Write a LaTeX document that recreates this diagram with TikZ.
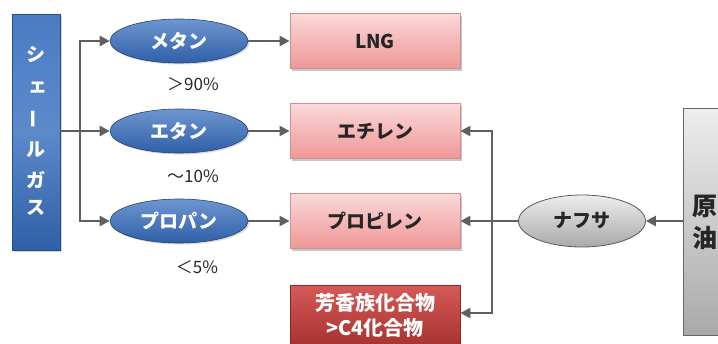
\documentclass[tikz,border=0pt]{standalone}
\usepackage{fontspec}
\setmainfont{Noto Sans CJK JP}
\usetikzlibrary{arrows.meta,shadows,shapes.geometric}
\definecolor{arr}{HTML}{5F5F5F}
\definecolor{blueA}{HTML}{4A7CC4}
\definecolor{blueB}{HTML}{2F5FA8}
\definecolor{pinkA}{HTML}{FBD9D9}
\definecolor{pinkB}{HTML}{EF9696}
\definecolor{redA}{HTML}{D65A57}
\definecolor{redB}{HTML}{A83331}
\definecolor{grayA}{HTML}{EDEDED}
\definecolor{grayB}{HTML}{A9A9A9}
\tikzset{
  conn/.style={draw=arr, line width=2.4pt},
  arrowline/.style={conn, -{Triangle[length=10pt,width=10pt]}},
  bluebox/.style={draw=blueB!80!black, line width=0.8pt, top color=blueA, bottom color=blueB, middle color=blueA!90!white, drop shadow={shadow xshift=1.5pt, shadow yshift=-1.5pt, opacity=0.35}},
  blueell/.style={ellipse, draw=blueB!70!black, line width=0.6pt, top color=blueA!80!white, bottom color=blueB, minimum width=138pt, minimum height=44pt, inner sep=0pt, text=white, font=\bfseries\fontsize{19}{20}\selectfont, drop shadow={shadow xshift=1.5pt, shadow yshift=-1.5pt, opacity=0.3}},
  pinkbox/.style={draw=pinkB!70!gray, line width=0.8pt, top color=pinkA, bottom color=pinkB, minimum width=170pt, minimum height=55pt, inner sep=0pt, text=black!85, font=\bfseries\fontsize{19}{20}\selectfont, drop shadow={shadow xshift=2pt, shadow yshift=-2pt, opacity=0.45}},
  redbox/.style={draw=redB!80!black, line width=0.8pt, top color=redA, bottom color=redB, minimum width=170pt, minimum height=60pt, inner sep=0pt, text=white, align=center, font=\bfseries\fontsize{20}{27}\selectfont},
  grayell/.style={ellipse, draw=gray!70!black, line width=0.8pt, top color=grayA, bottom color=grayB, minimum width=127pt, minimum height=52pt, inner sep=0pt, text=black!85, font=\bfseries\fontsize{19}{20}\selectfont},
  graybox/.style={draw=gray!80!black, line width=0.8pt, top color=grayA, bottom color=grayB, minimum width=60pt, minimum height=227pt, inner sep=0pt},
  pct/.style={font=\fontsize{17}{19}\selectfont, text=black!85},
  vchar/.style={text=white, font=\bfseries\fontsize{19}{20}\selectfont, inner sep=0pt},
}
\begin{document}
\begin{tikzpicture}[x=1pt,y=-1pt]
\useasboundingbox (0,0) rectangle (718,343);
\clip (0,0) rectangle (718,343);
% left box
\node[bluebox, minimum width=48pt, minimum height=236pt, inner sep=0pt] (shale) at (36,132) {};
\node[vchar] (c1) at (36,54) {シ};
\node[vchar] (c2) at (38,88) {ェ};
\node[vchar, rotate=90] (c3) at (36,119) {ー};
\node[vchar] (c4) at (36,150) {ル};
\node[vchar] (c5) at (36,180) {ガ};
\node[vchar] (c6) at (36,208) {ス};
% ellipses
\node[blueell] (methane) at (179,41) {メタン};
\node[blueell] (ethane) at (179,131) {エタン};
\node[blueell] (propane) at (179,221) {プロパン};
\node[pct] (p1) at (193,84) {＞90\%};
\node[pct] (p2) at (193,176) {～10\%};
\node[pct] (p3) at (197,267) {＜5\%};
% products
\node[pinkbox] (lng) at (375,41) {LNG};
\node[pinkbox] (ethylene) at (375,131) {エチレン};
\node[pinkbox] (propylene) at (375,221) {プロピレン};
\node[redbox] (arom) at (375,315) {芳香族化合物\\[-2pt]>C4化合物};
% right side
\node[grayell] (naphtha) at (582,221) {ナフサ};
\node[graybox, anchor=north west] (crude) at (683,108) {};
\node[font=\bfseries\fontsize{25}{32}\selectfont, text=black!85, anchor=west, inner sep=0pt, align=left] (crudetxt) at (692,222) {原\\油};
% connectors left
\coordinate (split) at (80,131);
\draw[conn] (shale.east |- split) -- (split);
\draw[arrowline] (split) |- (methane.west);
\draw[arrowline] (split) -- (ethane.west);
\draw[arrowline] (split) |- (propane.west);
\draw[arrowline] (methane.east) -- (lng.west);
\draw[arrowline] (ethane.east) -- (ethylene.west);
\draw[arrowline] (propane.east) -- (propylene.west);
% connectors right
\coordinate (rsplit) at (492,221);
\draw[conn] (naphtha.west) -- (rsplit);
\draw[arrowline] (rsplit) -- (propylene.east);
\draw[arrowline] (rsplit) |- (ethylene.east);
\draw[arrowline] (rsplit) |- ([yshift=2pt]arom.east);
\draw[arrowline] (crude.west |- naphtha) -- (naphtha.east);
\end{tikzpicture}
\end{document}
